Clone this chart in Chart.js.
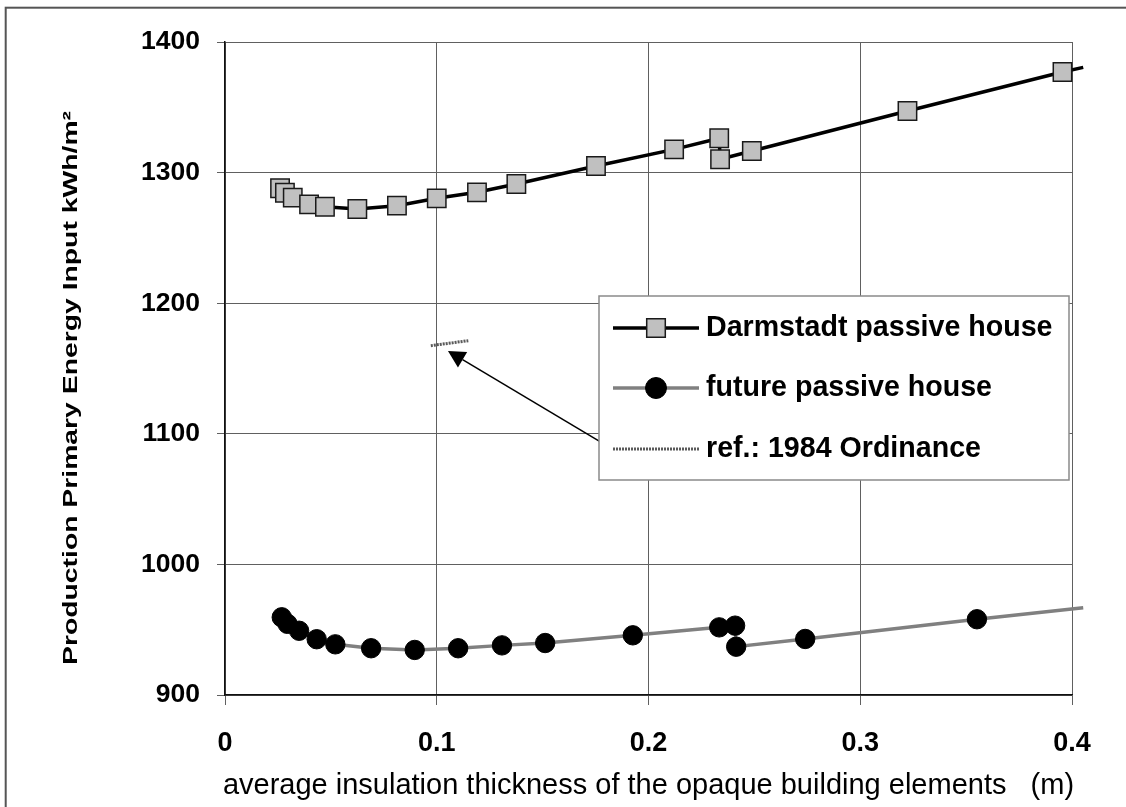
<!DOCTYPE html>
<html><head><meta charset="utf-8">
<script src="https://cdn.jsdelivr.net/npm/chart.js@4.4.1/dist/chart.umd.min.js"></script>
<style>html,body{margin:0;padding:0;background:#fff}canvas{display:block}</style>
</head><body>
<canvas id="c" width="1126" height="807"></canvas>
<script>
// ---- data ----
const darmstadtX = [0.026, 0.0283, 0.032, 0.0397, 0.0472, 0.0625, 0.0812, 0.1, 0.119, 0.1376, 0.1752, 0.2121, 0.2334, 0.2338, 0.2488, 0.3223, 0.3955, 0.4053];
const darmstadtY = [1288, 1284.6, 1280.8, 1275.7, 1273.9, 1272.1, 1274.7, 1280.3, 1284.9, 1291.3, 1305.1, 1317.8, 1326.3, 1310.2, 1316.5, 1347.2, 1377, 1380.6];
const futureX = [0.0268, 0.0295, 0.035, 0.0433, 0.0521, 0.069, 0.0896, 0.1101, 0.1308, 0.1512, 0.1926, 0.2334, 0.2409, 0.2414, 0.274, 0.3551, 0.4053];
const futureY = [959.5, 954.5, 949.2, 942.7, 938.8, 935.8, 934.5, 935.8, 938, 939.8, 945.7, 951.8, 953.1, 937, 942.9, 958, 966.8];
const ordinanceX = [0.0972, 0.1149];
const ordinanceY = [1167.5, 1171.3];
const arrowFrom = [0.1781, 1093];
const arrowTo = [0.1053, 1163.4];
const seriesNames = ['Darmstadt passive house', 'future passive house', 'ref.: 1984 Ordinance'];
const xTickLabels = ['0', '0.1', '0.2', '0.3', '0.4'];
const yTickLabels = ['900', '1000', '1100', '1200', '1300', '1400'];
const xTitle = 'average insulation thickness of the opaque building elements   (m)';
const yTitle = 'Production Primary Energy Input kWh/m\u00B2';

const FONT = '"Liberation Sans", Arial, sans-serif';
const toPts = (xs, ys) => xs.map((x, i) => ({x: x, y: ys[i]}));
const radii = (n, r) => Array.from({length: n}, (_, i) => i === n - 1 ? 0 : r);

const decor = {
  id: 'decor',
  beforeDraw(chart) {
    const ctx = chart.ctx;
    ctx.save();
    ctx.fillStyle = '#fff';
    ctx.fillRect(0, 0, chart.width, chart.height);
    ctx.strokeStyle = '#555';
    ctx.lineWidth = 2;
    ctx.strokeRect(5.7, 7.7, chart.width + 20, chart.height + 20);
    ctx.restore();
  },
  afterDatasetsDraw(chart) {
    const ctx = chart.ctx, xs = chart.scales.x, ys = chart.scales.y;
    // arrow
    const x1 = xs.getPixelForValue(arrowFrom[0]), y1 = ys.getPixelForValue(arrowFrom[1]);
    const x2 = xs.getPixelForValue(arrowTo[0]), y2 = ys.getPixelForValue(arrowTo[1]);
    const ang = Math.atan2(y2 - y1, x2 - x1);
    const L = 17, W = 9;
    const bx = x2 - L * Math.cos(ang), by = y2 - L * Math.sin(ang);
    ctx.save();
    ctx.strokeStyle = '#000'; ctx.fillStyle = '#000'; ctx.lineWidth = 1.5;
    ctx.beginPath(); ctx.moveTo(x1, y1); ctx.lineTo(bx, by); ctx.stroke();
    ctx.beginPath(); ctx.moveTo(x2, y2);
    ctx.lineTo(bx + W * Math.sin(ang), by - W * Math.cos(ang));
    ctx.lineTo(bx - W * Math.sin(ang), by + W * Math.cos(ang));
    ctx.closePath(); ctx.fill();
    ctx.restore();

    // legend box
    const lx = 599, ly = 296, lw = 470, lh = 184;
    ctx.save();
    ctx.fillStyle = '#fff'; ctx.fillRect(lx, ly, lw, lh);
    ctx.strokeStyle = '#8a8a8a'; ctx.lineWidth = 1.5; ctx.strokeRect(lx, ly, lw, lh);
    const rows = [328, 388, 449];
    const ds = chart.data.datasets;
    rows.forEach((ry, i) => {
      const d = ds[i];
      ctx.save();
      ctx.strokeStyle = d.borderColor; ctx.lineWidth = d.borderWidth;
      ctx.setLineDash(d.borderDash || []);
      ctx.beginPath(); ctx.moveTo(613, ry); ctx.lineTo(699, ry); ctx.stroke();
      ctx.restore();
      if (i < 2) {
        ctx.save();
        ctx.fillStyle = d.pointBackgroundColor; ctx.strokeStyle = d.pointBorderColor;
        ctx.lineWidth = d.pointBorderWidth;
        ctx.beginPath();
        if (i === 0) { const s = 9.3; ctx.rect(656 - s, ry - s, 2 * s, 2 * s); }
        else { ctx.arc(656, ry, 10.5, 0, Math.PI * 2); }
        ctx.fill(); ctx.stroke();
        ctx.restore();
      }
      ctx.fillStyle = '#000';
      ctx.font = 'bold 28.6px ' + FONT;
      ctx.textAlign = 'left'; ctx.textBaseline = 'middle';
      ctx.fillText(seriesNames[i], 706, ry);
    });
    ctx.restore();
  },
  afterDraw(chart) {
    const ctx = chart.ctx;
    ctx.save();
    ctx.fillStyle = '#000';
    // y title (stretched, bold)
    ctx.translate(71, 388);
    ctx.rotate(-Math.PI / 2);
    ctx.font = 'bold 21px ' + FONT;
    const w = ctx.measureText(yTitle).width;
    ctx.scale(554 / w, 1);
    ctx.textAlign = 'center'; ctx.textBaseline = 'middle';
    ctx.fillText(yTitle, 0, 0);
    ctx.restore();
    ctx.save();
    ctx.fillStyle = '#000';
    ctx.font = '29px ' + FONT;
    ctx.textAlign = 'center'; ctx.textBaseline = 'alphabetic';
    ctx.fillText(xTitle, 648.5, 794);
    ctx.restore();
  }
};

new Chart(document.getElementById('c'), {
  type: 'scatter',
  data: {
    datasets: [
      {
        label: seriesNames[0], data: toPts(darmstadtX, darmstadtY), showLine: true,
        borderColor: '#000', borderWidth: 3.5,
        pointStyle: 'rect', pointRadius: radii(darmstadtX.length, 13),
        pointBackgroundColor: '#c0c0c0', pointBorderColor: '#1a1a1a', pointBorderWidth: 1.5,
        clip: false, order: 2
      },
      {
        label: seriesNames[1], data: toPts(futureX, futureY), showLine: true,
        borderColor: '#808080', borderWidth: 3.5,
        pointStyle: 'circle', pointRadius: radii(futureX.length, 9.7),
        pointBackgroundColor: '#000', pointBorderColor: '#000', pointBorderWidth: 1,
        clip: false, order: 1
      },
      {
        label: seriesNames[2], data: toPts(ordinanceX, ordinanceY), showLine: true,
        borderColor: '#5a5a5a', borderWidth: 3, borderDash: [2, 1],
        pointRadius: 0, clip: false, order: 0
      }
    ]
  },
  options: {
    responsive: false, animation: false, devicePixelRatio: 1,
    layout: {padding: {top: 42, right: 54, bottom: 0, left: 0}},
    plugins: {legend: {display: false}, tooltip: {enabled: false}},
    scales: {
      x: {
        type: 'linear', min: 0, max: 0.4,
        afterFit: s => { s.height = 112; },
        grid: {color: '#606060', lineWidth: 1, tickLength: 10, tickColor: '#606060'},
        border: {color: '#111', width: 1.5},
        ticks: {
          stepSize: 0.1, padding: 22, color: '#000', maxRotation: 0,
          font: {family: FONT, size: 27, weight: 'bold'},
          callback: (v, i) => xTickLabels[i]
        }
      },
      y: {
        type: 'linear', min: 900, max: 1400,
        afterFit: s => { s.width = 225; },
        grid: {color: '#606060', lineWidth: 1, tickLength: 8, tickColor: '#606060'},
        border: {color: '#111', width: 1.5},
        ticks: {
          stepSize: 100, padding: 17, color: '#000',
          font: {family: FONT, size: 26.5, weight: 'bold'},
          callback: (v, i) => yTickLabels[i]
        }
      }
    }
  },
  plugins: [decor]
});
</script>
</body></html>
